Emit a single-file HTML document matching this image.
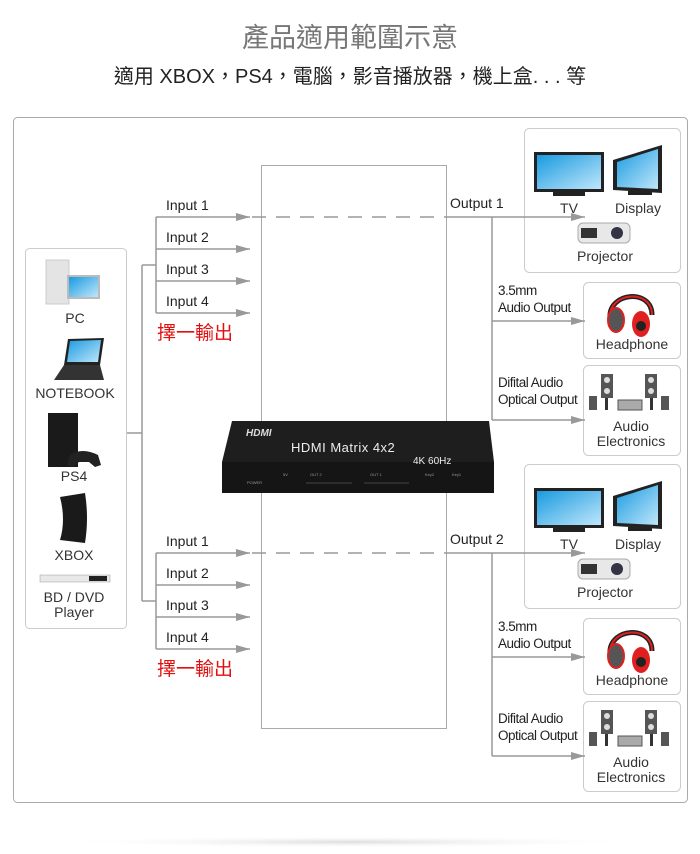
<!DOCTYPE html>
<html><head><meta charset="utf-8"><style>
html,body{margin:0;padding:0;background:#fff;width:700px;height:854px;overflow:hidden}
svg{display:block}
text{font-family:"Liberation Sans","Noto Sans CJK TC",sans-serif}
</style></head><body>
<svg width="700" height="854" viewBox="0 0 700 854" xmlns="http://www.w3.org/2000/svg">
<defs>
<linearGradient id="scr" x1="0" y1="0" x2="1" y2="1"><stop offset="0" stop-color="#1a9be0"/><stop offset="1" stop-color="#bfe6fb"/></linearGradient>
<radialGradient id="sh" cx="0.5" cy="0.5" r="0.5"><stop offset="0" stop-color="#ddd"/><stop offset="1" stop-color="#fff" stop-opacity="0"/></radialGradient>
<marker id="ar" viewBox="0 0 14 8" refX="14" refY="4" markerWidth="14" markerHeight="8" markerUnits="userSpaceOnUse" orient="auto"><path d="M0,0 L14,4 L0,8 z" fill="#999"/></marker>
<g id="right">
 <rect x="524.5" y="128.5" width="156" height="144" rx="5" fill="#fff" stroke="#ccc"/>
 <rect x="534" y="152" width="70" height="40" fill="#222"/><rect x="537" y="155" width="64" height="34" fill="url(#scr)"/>
 <rect x="553" y="192" width="32" height="4" fill="#222"/>
 <polygon points="613,160 662,145 662,193 613,190" fill="#222"/><polygon points="617,162 658,149 658,189 617,187" fill="url(#scr)"/>
 <rect x="628" y="191" width="24" height="4" fill="#222"/>
 <text x="569" y="213" font-size="14" fill="#333" text-anchor="middle">TV</text>
 <text x="638" y="213" font-size="14" fill="#333" text-anchor="middle">Display</text>
 <rect x="578" y="223" width="52" height="20" rx="5" fill="#e8e8e8" stroke="#aaa"/><circle cx="617" cy="233" r="6" fill="#334"/><rect x="581" y="228" width="16" height="10" fill="#333"/>
 <text x="605" y="261" font-size="14" fill="#333" text-anchor="middle">Projector</text>
 <rect x="583.5" y="282.5" width="97" height="76" rx="5" fill="#fff" stroke="#ccc"/>
 <path d="M610,318 C608,292 652,288 652,315" fill="none" stroke="#222" stroke-width="5"/>
 <path d="M610,318 C608,292 652,288 652,315" fill="none" stroke="#e02020" stroke-width="2"/>
 <ellipse cx="616" cy="320" rx="8" ry="12" fill="#555" stroke="#e02020" stroke-width="2"/>
 <ellipse cx="641" cy="324" rx="9" ry="13" fill="#e02020"/><circle cx="641" cy="326" r="5" fill="#222"/>
 <text x="632" y="349" font-size="14" fill="#333" text-anchor="middle">Headphone</text>
 <rect x="583.5" y="365.5" width="97" height="90" rx="5" fill="#fff" stroke="#ccc"/>
 <rect x="601" y="374" width="12" height="24" fill="#555"/><circle cx="607" cy="380" r="3" fill="#ddd"/><circle cx="607" cy="391" r="3" fill="#ddd"/>
 <rect x="645" y="374" width="12" height="24" fill="#555"/><circle cx="651" cy="380" r="3" fill="#ddd"/><circle cx="651" cy="391" r="3" fill="#ddd"/>
 <rect x="589" y="396" width="8" height="14" fill="#555"/><rect x="661" y="396" width="8" height="14" fill="#555"/>
 <rect x="618" y="400" width="24" height="10" fill="#aaa" stroke="#555"/>
 <rect x="605" y="398" width="3" height="12" fill="#333"/><rect x="650" y="398" width="3" height="12" fill="#333"/>
 <text x="631" y="431" font-size="14" fill="#333" text-anchor="middle">Audio</text>
 <text x="631" y="446" font-size="14" fill="#333" text-anchor="middle">Electronics</text>
 <line x1="446" y1="217" x2="585" y2="217" stroke="#999" stroke-width="1.5" marker-end="url(#ar)"/>
 <line x1="492" y1="217" x2="492" y2="420" stroke="#999" stroke-width="1.5"/>
 <line x1="492" y1="321" x2="585" y2="321" stroke="#999" stroke-width="1.5" marker-end="url(#ar)"/>
 <line x1="492" y1="420" x2="585" y2="420" stroke="#999" stroke-width="1.5" marker-end="url(#ar)"/>
 <text x="498" y="295" font-size="13.5" fill="#222" letter-spacing="-0.5">3.5mm</text>
 <text x="498" y="312" font-size="13.5" fill="#222" letter-spacing="-0.5">Audio Output</text>
 <text x="498" y="387" font-size="13.5" fill="#222" letter-spacing="-0.5">Difital Audio</text>
 <text x="498" y="404" font-size="13.5" fill="#222" letter-spacing="-0.5">Optical Output</text>
 <g stroke="#999" stroke-width="1.5">
  <line x1="156" y1="217" x2="156" y2="313"/><line x1="142" y1="265" x2="156" y2="265"/>
  <line x1="156" y1="217" x2="250" y2="217" marker-end="url(#ar)"/>
  <line x1="156" y1="249" x2="250" y2="249" marker-end="url(#ar)"/>
  <line x1="156" y1="281" x2="250" y2="281" marker-end="url(#ar)"/>
  <line x1="156" y1="313" x2="250" y2="313" marker-end="url(#ar)"/>
  <line x1="252" y1="217" x2="446" y2="217" stroke-dasharray="14,10"/>
 </g>
 <text x="166" y="210" font-size="14" fill="#222">Input 1</text>
 <text x="166" y="242" font-size="14" fill="#222">Input 2</text>
 <text x="166" y="274" font-size="14" fill="#222">Input 3</text>
 <text x="166" y="306" font-size="14" fill="#222">Input 4</text>
 <text x="157" y="339" font-size="19" fill="#e01010">擇一輸出</text>
</g>
</defs>
<text x="350" y="47" font-size="27" fill="#777" text-anchor="middle">產品適用範圍示意</text>
<text x="350" y="83" font-size="20" fill="#222" text-anchor="middle">適用 XBOX，PS4，電腦，影音播放器，機上盒. . . 等</text>
<ellipse cx="350" cy="842" rx="300" ry="6" fill="url(#sh)"/>
<rect x="13.5" y="117.5" width="674" height="685" rx="4" fill="#fff" stroke="#aaa"/>
<rect x="261.5" y="165.5" width="185" height="563" fill="#fff" stroke="#aaa"/>
<line x1="126" y1="433" x2="142" y2="433" stroke="#999" stroke-width="1.5"/>
<line x1="142" y1="265" x2="142" y2="601" stroke="#999" stroke-width="1.5"/>
<use href="#right"/>
<use href="#right" transform="translate(0,336)"/>
<text x="450" y="208" font-size="14" fill="#222">Output 1</text>
<text x="450" y="544" font-size="14" fill="#222">Output 2</text>
<rect x="25.5" y="248.5" width="101" height="380" rx="4" fill="#fff" stroke="#ccc"/>
<rect x="46" y="260" width="23" height="44" fill="#e4e4e4" stroke="#ccc"/>
<rect x="67" y="275" width="33" height="24" fill="#bbb"/><rect x="69" y="277" width="29" height="20" fill="url(#scr)"/>
<text x="75" y="323" font-size="14" fill="#333" text-anchor="middle">PC</text>
<polygon points="68,339 104,338 100,365 64,365" fill="#222"/><polygon points="70,341 101,340 98,362 67,362" fill="url(#scr)"/>
<polygon points="54,380 64,365 100,365 104,380" fill="#333"/>
<text x="75" y="398" font-size="14" fill="#333" text-anchor="middle">NOTEBOOK</text>
<rect x="48" y="413" width="30" height="54" fill="#1a1a1a"/><path d="M70,455 q12,-8 28,0 l3,10 -6,2 -6,-5 -10,0 -6,5 -6,-2z" fill="#222"/>
<text x="74" y="481" font-size="14" fill="#333" text-anchor="middle">PS4</text>
<path d="M60,497 l25,-4 q4,25 0,50 l-25,-3 q6,-20 0,-43z" fill="#1a1a1a"/>
<text x="74" y="560" font-size="14" fill="#333" text-anchor="middle">XBOX</text>
<rect x="40" y="575" width="70" height="7" fill="#e8e8e8" stroke="#999" stroke-width="0.5"/><rect x="89" y="576" width="18" height="5" fill="#222"/>
<text x="74" y="602" font-size="14" fill="#333" text-anchor="middle">BD / DVD</text>
<text x="74" y="617" font-size="14" fill="#333" text-anchor="middle">Player</text>
<polygon points="232,421 489,421 494,462 222,462" fill="#1e1e1e"/>
<rect x="222" y="462" width="272" height="31" fill="#151515"/>
<text x="246" y="436" font-size="10" font-weight="bold" font-style="italic" fill="#ddd">HDMI</text>
<text x="291" y="452" font-size="13" fill="#eee" letter-spacing="0.5">HDMI Matrix 4x2</text>
<text x="413" y="464" font-size="10" fill="#eee">4K 60Hz</text>
<g fill="#999" font-size="4"><text x="247" y="484">POWER</text><text x="283" y="476">5V</text><text x="310" y="476">OUT 2</text><text x="370" y="476">OUT 1</text><text x="425" y="476">Key2</text><text x="452" y="476">Key1</text></g>
<line x1="306" y1="483" x2="352" y2="483" stroke="#777" stroke-width="0.5"/><line x1="364" y1="483" x2="409" y2="483" stroke="#777" stroke-width="0.5"/>
</svg>
</body></html>
